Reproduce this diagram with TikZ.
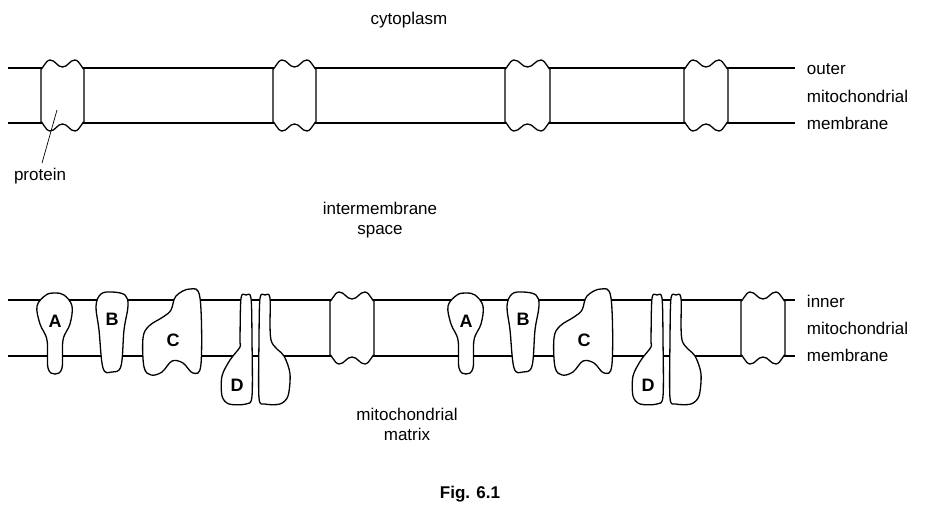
\documentclass[tikz,border=0pt]{standalone}
\usepackage{fontspec}
\setmainfont{Liberation Sans}
\begin{document}
\begin{tikzpicture}[x=1pt,y=-1pt,line width=1.3pt,
  mem/.style={line width=1.2pt},
  prot/.style={draw,fill=white,line width=1.3pt,line join=round},
  lbl/.style={font=\fontsize{17}{20}\selectfont,align=center},
  let/.style={font=\fontsize{18}{20}\selectfont\bfseries}]
\useasboundingbox (0,0) rectangle (941,514);
\newcommand{\chan}[4]{%
 \pgfmathsetmacro{\M}{(#1+#2)/2}%
 \filldraw[prot] (#1,#3) to[out=-90,in=180] (#1+9,#3-8) to[out=0,in=180] (\M,#3-1) to[out=0,in=180] (#2-9,#3-8) to[out=0,in=-90] (#2,#3)
 -- (#2,#4) to[out=90,in=0] (#2-9,#4+8) to[out=180,in=0] (\M,#4+1) to[out=180,in=0] (#1+9,#4+8) to[out=180,in=90] (#1,#4) -- cycle;}
% outer membrane
\draw[mem] (8,68) coordinate (o1) -- (795,68) coordinate (o2);
\draw[mem] (8,123) coordinate (o3) -- (795,123) coordinate (o4);
\chan{41}{84}{68}{123}
\chan{273}{316}{68}{123}
\chan{505}{550}{68}{123}
\chan{684}{728}{68}{123}
% inner membrane
\draw[mem] (8,300) coordinate (i1) -- (795,300) coordinate (i2);
\draw[mem] (8,356) coordinate (i3) -- (795,356) coordinate (i4);
\foreach \dx in {0,411}{
\begin{scope}[xshift=\dx]
\filldraw[prot] plot[smooth cycle,tension=0.6] coordinates {(46,295)(55,293)(64,295)(72,306)(70,324)(63,340)(62,368)(55,374)(48,368)(47,340)(40,324)(37,306)};
\filldraw[prot] plot[smooth cycle,tension=0.6] coordinates {(101,294)(112,292)(125,295)(128,306)(124,330)(121,366)(112,372)(103,368)(99,330)(96,306)};
\filldraw[prot] plot[smooth cycle,tension=0.6] coordinates {(176,296)(190,289)(200,298)(201,364)(193,373)(183,363)(172,361)(162,372)(151,375)(144,367)(143,338)(149,326)(163,317)(171,310)};
\filldraw[prot] plot[smooth cycle,tension=0.5] coordinates {(241,298)(246,295)(251,298)(252,340)(252,396)(246,404)(229,404)(222,396)(222,376)(230,360)(240,347)(240,340)};
\filldraw[prot] plot[smooth cycle,tension=0.5] coordinates {(260,298)(265,295)(270,298)(271,340)(284,356)(290,374)(288,396)(280,404)(265,404)(259,398)(259,340)};
\node[let] at (55,321) {A};
\node[let] at (112,319) {B};
\node[let] at (173,340) {C};
\node[let] at (237,385) {D};
\end{scope}}
\chan{330}{374}{300}{356}
\chan{741}{785}{300}{356}
% labels
\node[lbl] (cyto) at (409,20) {cytoplasm};
\node[lbl,anchor=west] (om1) at (803,69) {outer};
\node[lbl,anchor=west] (om2) at (803,96) {mitochondrial};
\node[lbl,anchor=west] (om3) at (803,123) {membrane};
\node[lbl,anchor=west] (im1) at (803,301) {inner};
\node[lbl,anchor=west] (im2) at (803,328) {mitochondrial};
\node[lbl,anchor=west] (im3) at (803,355) {membrane};
\node[lbl] (prot) at (40,176) {protein};
\coordinate (pp) at (57,110);
\draw[line width=0.7pt] (prot.north) ++(2,-1) -- (pp);
\node[lbl] (ims) at (380,220) {intermembrane\\space};
\node[lbl] (mm) at (407,424) {mitochondrial\\matrix};
\node[lbl,font=\fontsize{17}{20}\selectfont\bfseries] (fig) at (470,494) {Fig. 6.1};
\end{tikzpicture}
\end{document}
